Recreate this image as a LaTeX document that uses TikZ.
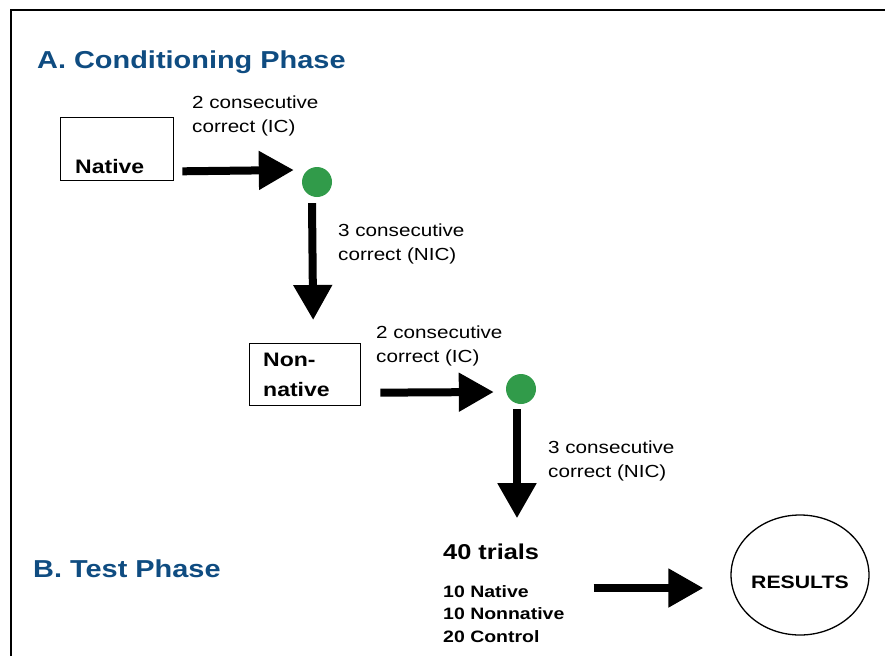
\documentclass[tikz,border=0pt]{standalone}
\usepackage{fontspec}
\setmainfont{Liberation Sans}[FakeStretch=1.18]
\usetikzlibrary{arrows.meta, shapes.geometric}
\definecolor{phaseblue}{HTML}{0F4C81}
\definecolor{dotgreen}{HTML}{319B4A}
\tikzset{
    heading/.style={
        anchor=base west, inner sep=0pt, text=phaseblue,
        font=\fontsize{24.5}{30}\selectfont\bfseries
    },
    criterion/.style={
        anchor=north west, inner sep=0pt, align=left,
        font=\fontsize{17.5}{24}\selectfont
    },
    stimbox/.style={
        rectangle, draw=black, line width=1.3pt, fill=white,
        anchor=north west, inner sep=0pt
    },
    stimtext/.style={
        inner sep=0pt, align=left,
        font=\fontsize{19.5}{30}\selectfont\bfseries
    },
    checkpoint/.style={
        circle, fill=dotgreen, minimum size=30pt, inner sep=0pt
    },
    bigarrow/.style={draw=black, line width=8pt, -{Triangle[length=35pt,width=37pt]}}
}
\begin{document}
\begin{tikzpicture}[x=1pt, y=-1pt]
\useasboundingbox (0,0) rectangle (885,656);

% frame (cut at right and bottom)
\draw[line width=2pt] (11,656) -- (11,10) -- (885,10);

% A. Conditioning phase
\node[heading] (condhead) at (37,68) {A. Conditioning Phase};

% native block
\node[stimbox, minimum width=113pt, minimum height=63pt] (native) at (60,117) {};
\node[stimtext, anchor=base west] (nativetxt) at (75,173) {Native};
\node[criterion] (ic1) at (192,95.5) {2 consecutive\\correct (IC)};
\node[checkpoint] (dot1) at (317,182) {};
\node[criterion] (nic1) at (338,223.5) {3 consecutive\\correct (NIC)};

% nonnative block
\node[stimbox, minimum width=111pt, minimum height=62pt] (nonnative) at (249,343) {};
\node[stimtext, anchor=north west] (nonnativetxt) at (263,353) {Non-\\native};
\node[criterion] (ic2) at (376,325.5) {2 consecutive\\correct (IC)};
\node[checkpoint] (dot2) at (521,389) {};
\node[criterion] (nic2) at (548,440.5) {3 consecutive\\correct (NIC)};

% B. Test phase
\node[heading] (testhead) at (33,577) {B. Test Phase};
\node[anchor=base west, inner sep=0pt, font=\fontsize{21.5}{26}\selectfont\bfseries] (trials) at (443,559) {40 trials};
\node[anchor=north west, inner sep=0pt, align=left, font=\fontsize{16.5}{22.5}\selectfont\bfseries] (mix) at (443,585) {10 Native\\10 Nonnative\\20 Control};
\node[ellipse, draw=black, line width=1.3pt, minimum width=133pt, minimum height=120pt, inner sep=0pt, font=\fontsize{18}{22}\selectfont\bfseries] (results) at (800,575) {\raisebox{-13pt}[0pt][0pt]{RESULTS}};

% arrows
\draw[bigarrow] ([xshift=8pt,yshift=10pt]native.south east) -- ([xshift=-8pt,yshift=12pt]dot1.west);
\draw[bigarrow] ([xshift=-5pt,yshift=-6pt]dot1.south) -- ([xshift=8pt,yshift=23pt]nonnative.north);
\draw[bigarrow] ([xshift=19pt,yshift=-18pt]nonnative.east) -- ([xshift=-12pt,yshift=-3pt]dot2.west);
\draw[bigarrow] ([xshift=-4pt,yshift=-5pt]dot2.south) -- ([xshift=74pt,yshift=25pt]trials.north west);
\draw[bigarrow] ([xshift=29pt,yshift=-3pt]mix.north east) -- ([xshift=-27pt,yshift=-13pt]results.west);

\end{tikzpicture}
\end{document}
